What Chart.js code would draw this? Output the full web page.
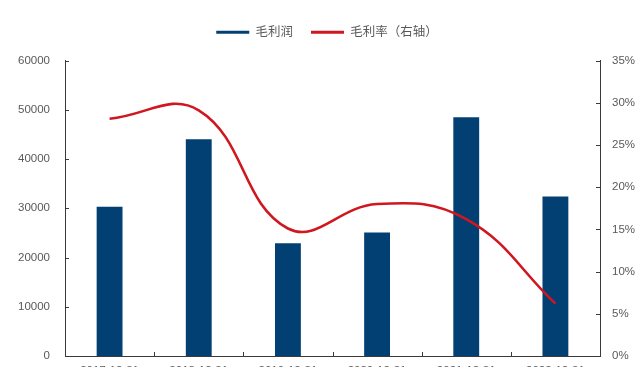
<!DOCTYPE html>
<html>
<head>
<meta charset="utf-8">
<script src="https://cdn.jsdelivr.net/npm/chart.js@4/dist/chart.umd.min.js"></script>
<style>
  html, body { margin: 0; padding: 0; background: #fff; overflow: hidden; }
  #wrap { width: 640px; height: 380px; }
</style>
</head>
<body>
<div id="wrap"><canvas id="c" width="640" height="380"></canvas></div>
<script>
// Year-end reporting dates
const categories = ['2017-12-31', '2018-12-31', '2019-12-31', '2020-12-31', '2021-12-31', '2022-12-31'];
// 毛利润 (left axis)
const grossProfit = [30300, 44000, 22900, 25100, 48500, 32400];
// 毛利率, percent (right axis)
const grossMargin = [28.1, 29.1, 15.1, 18.0, 16.2, 6.2];
// Axis ranges and steps
const profitTicks = { min: 0, max: 60000, step: 10000 };
const marginTicks = { min: 0, max: 35, step: 5 };

const BLUE = '#023F72';
const RED = '#D0161F';
const AXIS = '#3a3a3a';
const TEXT = '#595959';
const FONT = '"Liberation Sans", Arial, "Noto Sans CJK SC", sans-serif';

// Extra room between the legend row and the plot, and a small rightward nudge of the legend
const legendSpacing = {
  id: 'legendSpacing',
  beforeInit(chart) {
    const legend = chart.legend;
    const fit = legend.fit;
    legend.fit = function () {
      fit.call(this);
      this.height += 12;
    };
    const draw = legend.draw;
    legend.draw = function () {
      const ctx = this.ctx;
      ctx.save();
      ctx.translate(7, 0);
      draw.call(this);
      ctx.restore();
    };
  }
};

// Small tick marks pointing into the plot area
const innerTicks = {
  id: 'innerTicks',
  afterDatasetsDraw(chart) {
    const { ctx, chartArea: a, scales } = chart;
    const len = 4;
    ctx.save();
    ctx.strokeStyle = AXIS;
    ctx.lineWidth = 1;
    ctx.beginPath();
    scales.y.ticks.forEach(t => {
      const py = Math.round(scales.y.getPixelForValue(t.value)) + 0.5;
      ctx.moveTo(a.left, py); ctx.lineTo(a.left + len, py);
    });
    scales.y1.ticks.forEach(t => {
      const py = Math.round(scales.y1.getPixelForValue(t.value)) + 0.5;
      ctx.moveTo(a.right, py); ctx.lineTo(a.right - len, py);
    });
    const x = scales.x;
    const half = (x.getPixelForValue(1) - x.getPixelForValue(0)) / 2;
    for (let i = 1; i < categories.length; i++) {
      const px = Math.round(x.getPixelForValue(i) - half) + 0.5;
      ctx.moveTo(px, a.bottom); ctx.lineTo(px, a.bottom - len);
    }
    ctx.stroke();
    ctx.restore();
  }
};

new Chart(document.getElementById('c'), {
  data: {
    labels: categories,
    datasets: [
      {
        type: 'line',
        label: '毛利率（右轴）',
        data: grossMargin,
        yAxisID: 'y1',
        borderColor: RED,
        backgroundColor: RED,
        borderWidth: 2.6,
        pointRadius: 0,
        tension: 0.42,
        cubicInterpolationMode: 'default',
        order: 0
      },
      {
        type: 'bar',
        label: '毛利润',
        data: grossProfit,
        yAxisID: 'y',
        backgroundColor: BLUE,
        borderWidth: 0,
        categoryPercentage: 0.58,
        barPercentage: 0.5,
        order: 1
      }
    ]
  },
  options: {
    responsive: false,
    animation: false,
    layout: { padding: { top: 8, left: 0, right: 0, bottom: 0 } },
    plugins: {
      tooltip: { enabled: false },
      legend: {
        position: 'top',
        reverse: true,
        labels: {
          boxWidth: 33,
          boxHeight: 3,
          padding: 18,
          color: TEXT,
          font: { family: FONT, size: 12.5 },
          generateLabels(chart) {
            return chart.data.datasets.map((ds, i) => ({
              text: ds.label,
              fillStyle: ds.type === 'bar' ? BLUE : RED,
              strokeStyle: 'rgba(0,0,0,0)',
              lineWidth: 0,
              hidden: false,
              datasetIndex: i,
              fontColor: TEXT
            }));
          }
        }
      }
    },
    scales: {
      x: {
        offset: true,
        grid: { display: false, drawTicks: false },
        border: { display: true, color: AXIS, width: 1 },
        ticks: { color: TEXT, font: { family: FONT, size: 11.5 }, padding: 8, maxRotation: 0, autoSkip: false },
        afterFit(s) { s.height = 24; }
      },
      y: {
        position: 'left',
        min: profitTicks.min,
        max: profitTicks.max,
        grid: { display: false, drawTicks: false },
        border: { display: true, color: AXIS, width: 1 },
        ticks: {
          stepSize: profitTicks.step,
          color: TEXT,
          font: { family: FONT, size: 11.5 },
          padding: 15,
          callback: v => String(v)
        },
        afterFit(s) { s.width = 65; }
      },
      y1: {
        position: 'right',
        min: marginTicks.min,
        max: marginTicks.max,
        grid: { display: false, drawTicks: false },
        border: { display: true, color: AXIS, width: 1 },
        ticks: {
          stepSize: marginTicks.step,
          color: TEXT,
          font: { family: FONT, size: 11.5 },
          padding: 12,
          callback: v => v + '%'
        },
        afterFit(s) { s.width = 40; }
      }
    }
  },
  plugins: [legendSpacing, innerTicks]
});
</script>
</body>
</html>
